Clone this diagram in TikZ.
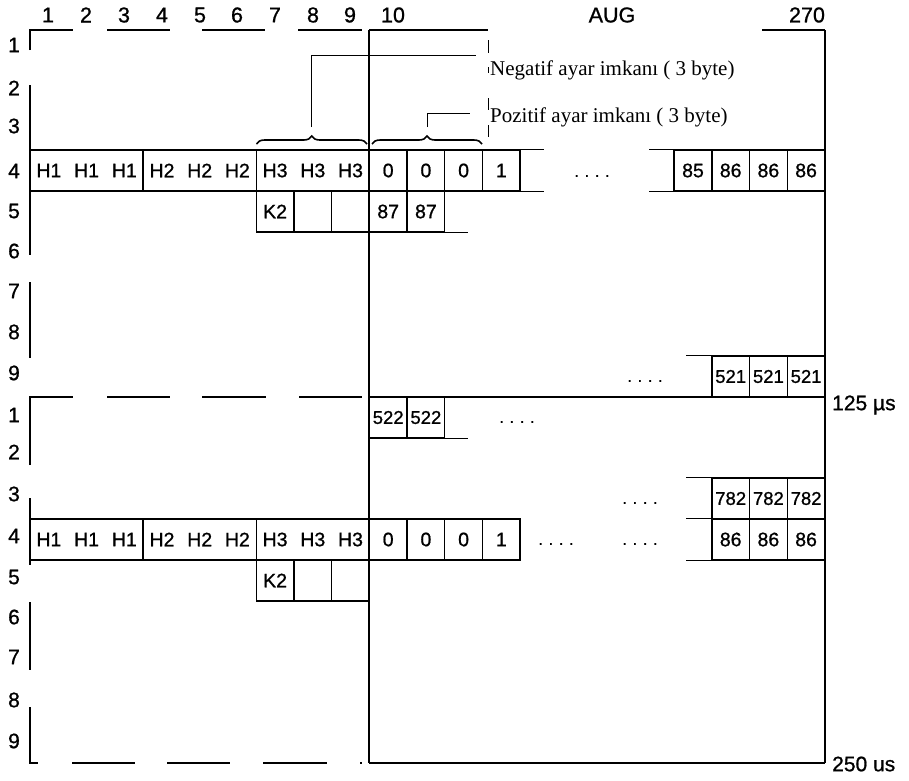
\documentclass[tikz,border=0pt]{standalone}
\usepackage{fontspec}
\setmainfont{Liberation Serif}
\newfontfamily\arialf[FakeBold=0.9]{Liberation Sans}
\usetikzlibrary{decorations.pathreplacing}
\newcommand\fdots{.\hspace{5.5pt}.\hspace{5.5pt}.\hspace{5.5pt}.}
\begin{document}
\begin{tikzpicture}[x=1pt,y=-1pt,
  lab/.style={font=\arialf\fontsize{21}{21}\selectfont, inner sep=0pt},
  hdr/.style={font=\arialf\fontsize{21.5}{21.5}\selectfont, inner sep=0pt},
  ctext/.style={font=\arialf\fontsize{19.5}{19.5}\selectfont, inner sep=0pt},
  cell/.style={draw, line width=1.4pt, minimum width=37.7pt, minimum height=41pt, inner sep=0pt, font=\arialf\fontsize{19.5}{19.5}\selectfont},
  tcell/.style={cell, font=\arialf\fontsize{18.5}{18.5}\selectfont},
  grp/.style={draw, line width=1.4pt, minimum width=113.1pt, minimum height=41pt, inner sep=0pt},
  dotsty/.style={font=\arialf\fontsize{17}{17}\selectfont, inner sep=0pt},
  frameline/.style={line width=2pt},
  edgeline/.style={line width=1.4pt},
  thinline/.style={line width=1pt},
  bracest/.style={line width=1.6pt, decorate, decoration={brace, amplitude=8pt}},
  note/.style={font=\fontsize{21}{21}\selectfont, inner sep=0pt, anchor=west}]
\useasboundingbox (0,0) rectangle (909,780);

% ---------- column headers ----------
\foreach \n/\x in {1/48,2/86,3/124,4/162,5/200,6/237,7/275,8/313,9/350,10/393}
  \node[hdr] (col\n) at (\x,15) {\n};
\node[hdr] (aug) at (612,15) {AUG};
\node[hdr] (c270) at (807,15) {270};

% ---------- row labels ----------
\foreach \n/\y in {1/45,2/88,3/126,4/171,5/211,6/251,7/291,8/332,9/373}
  \node[lab] (ra\n) at (14,\y) {\n};
\foreach \n/\y in {1/415,2/452,3/494,4/536,5/577,6/617,7/657,8/700,9/741}
  \node[lab] (rb\n) at (14,\y) {\n};

% ---------- frame lines ----------
\draw[frameline] (369.3,30) -- (369.3,763);
\draw[frameline] (825,30) -- (825,763);
\draw[frameline] (369.3,30) -- (488,30);
\draw[frameline] (762,30) -- (825,30);
\draw[frameline] (369.3,397) -- (825,397);
\draw[frameline] (369.3,763) -- (825,763);

% dashed outer left part
\draw[edgeline] (30,50) -- (30,30) -- (73,30);
\draw[edgeline] (107,30) -- (170,30);
\draw[edgeline] (202,30) -- (265,30);
\draw[edgeline] (298,30) -- (362,30);
\draw[edgeline] (30,85) -- (30,255);
\draw[edgeline] (30,282) -- (30,358);
\draw[edgeline] (30,465) -- (30,397) -- (73,397);
\draw[edgeline] (107,397) -- (170,397);
\draw[edgeline] (202,397) -- (266,397);
\draw[edgeline] (299,397) -- (362,397);
\draw[edgeline] (30,498) -- (30,565);
\draw[edgeline] (30,602) -- (30,670);
\draw[edgeline] (30,707) -- (30,763) -- (38,763);
\draw[edgeline] (72,763) -- (135,763);
\draw[edgeline] (167,763) -- (230,763);
\draw[edgeline] (263,763) -- (327,763);
\draw[edgeline] (360,763) -- (362,763);

% ---------- frame 1, row 4 ----------
\node[grp] (a-g1) at (86.6,170.5) {};
\node[grp] (a-g2) at (199.7,170.5) {};
\node[grp] (a-g3) at (312.8,170.5) {};
\foreach \t/\x [count=\i] in {H1/48.9,H1/86.6,H1/124.3,H2/162,H2/199.7,H2/237.4,H3/275.1,H3/312.8,H3/350.5}
  \node[ctext] (a-h\i) at (\x,170.5) {\t};
\foreach \t/\x [count=\i] in {0/388.2,0/425.9,0/463.6,1/501.3}
  \node[cell] (a-c\i) at (\x,170.5) {\t};
\draw[edgeline] (a-c4.north east) -- ++(23,0);
\draw[edgeline] (a-c4.south east) -- ++(23,0);
\node[dotsty] (a-d1) at (592,176) {\fdots};
\foreach \t/\x [count=\i] in {85/693,86/730.7,86/768.4,86/806.1}
  \node[cell] (a-r\i) at (\x,170.5) {\t};
\draw[edgeline] (a-r1.north west) -- ++(-24.5,0);
\draw[edgeline] (a-r1.south west) -- ++(-24.5,0);

% ---------- frame 1, row 5 ----------
\node[cell] (a-k1) at (275.1,211.5) {K2};
\node[cell] (a-k2) at (312.8,211.5) {};
\node[cell] (a-k3) at (350.5,211.5) {};
\node[cell] (a-p1) at (388.2,211.5) {87};
\node[cell] (a-p2) at (425.9,211.5) {87};
\draw[edgeline] (a-p2.south east) -- ++(22.5,0);

% ---------- frame 1, row 9 ----------
\node[dotsty] (a-d2) at (645,381) {\fdots};
\foreach \x [count=\i] in {730.7,768.4,806.1}
  \node[tcell] (a-s\i) at (\x,376.5) {521};
\draw[edgeline] (a-s1.north west) -- ++(-25,0);

% ---------- frame 2, row 1 ----------
\node[tcell] (b-p1) at (388.2,417.5) {522};
\node[tcell] (b-p2) at (425.9,417.5) {522};
\draw[edgeline] (b-p2.south east) -- ++(22.5,0);
\node[dotsty] (b-d1) at (517,422) {\fdots};

% ---------- frame 2, row 3 ----------
\node[dotsty] (b-d2) at (640,503) {\fdots};
\foreach \x [count=\i] in {730.7,768.4,806.1}
  \node[tcell] (b-s\i) at (\x,498.5) {782};
\draw[edgeline] (b-s1.north west) -- ++(-25,0);

% ---------- frame 2, row 4 ----------
\node[grp] (b-g1) at (86.6,539.5) {};
\node[grp] (b-g2) at (199.7,539.5) {};
\node[grp] (b-g3) at (312.8,539.5) {};
\foreach \t/\x [count=\i] in {H1/48.9,H1/86.6,H1/124.3,H2/162,H2/199.7,H2/237.4,H3/275.1,H3/312.8,H3/350.5}
  \node[ctext] (b-h\i) at (\x,539.5) {\t};
\foreach \t/\x [count=\i] in {0/388.2,0/425.9,0/463.6,1/501.3}
  \node[cell] (b-c\i) at (\x,539.5) {\t};
\node[dotsty] (b-d3) at (556,544) {\fdots};
\node[dotsty] (b-d4) at (640,544) {\fdots};
\foreach \x [count=\i] in {730.7,768.4,806.1}
  \node[cell] (b-r\i) at (\x,539.5) {86};
\draw[edgeline] (b-r1.north west) -- ++(-25,0);
\draw[edgeline] (b-r1.south west) -- ++(-25,0);

% ---------- frame 2, row 5 ----------
\node[cell] (b-k1) at (275.1,580.5) {K2};
\node[cell] (b-k2) at (312.8,580.5) {};
\node[cell] (b-k3) at (350.5,580.5) {};

% ---------- braces and notes ----------
\coordinate (br1a) at (256.5,144);
\coordinate (br1b) at (367,144);
\coordinate (br2a) at (372,144);
\coordinate (br2b) at (482,144);
\draw[bracest] (br1a) -- (br1b);
\draw[bracest] (br2a) -- (br2b);
\coordinate (t1) at (311.8,127);
\coordinate (k1) at (311.8,55);
\coordinate (e1) at (476,55);
\draw[thinline] (t1) -- (k1) -- (e1);
\coordinate (t2) at (427,127);
\coordinate (k2) at (427,113);
\coordinate (e2) at (470,113);
\draw[thinline] (t2) -- (k2) -- (e2);
\draw[thinline] (488,40) -- (488,53);
\draw[thinline] (488,67) -- (488,73);
\draw[thinline] (488,98) -- (488,110);
\draw[thinline] (488,125) -- (488,137);
\node[note] (neg) at (490,70) {Negatif ayar imkanı ( 3 byte)};
\node[note] (poz) at (490,117) {Pozitif ayar imkanı ( 3 byte)};

% ---------- time labels ----------
\node[lab, anchor=west] (t125) at (832,405) {125 µs};
\node[lab, anchor=west] (t250) at (832,764) {250 us};
\end{tikzpicture}
\end{document}
